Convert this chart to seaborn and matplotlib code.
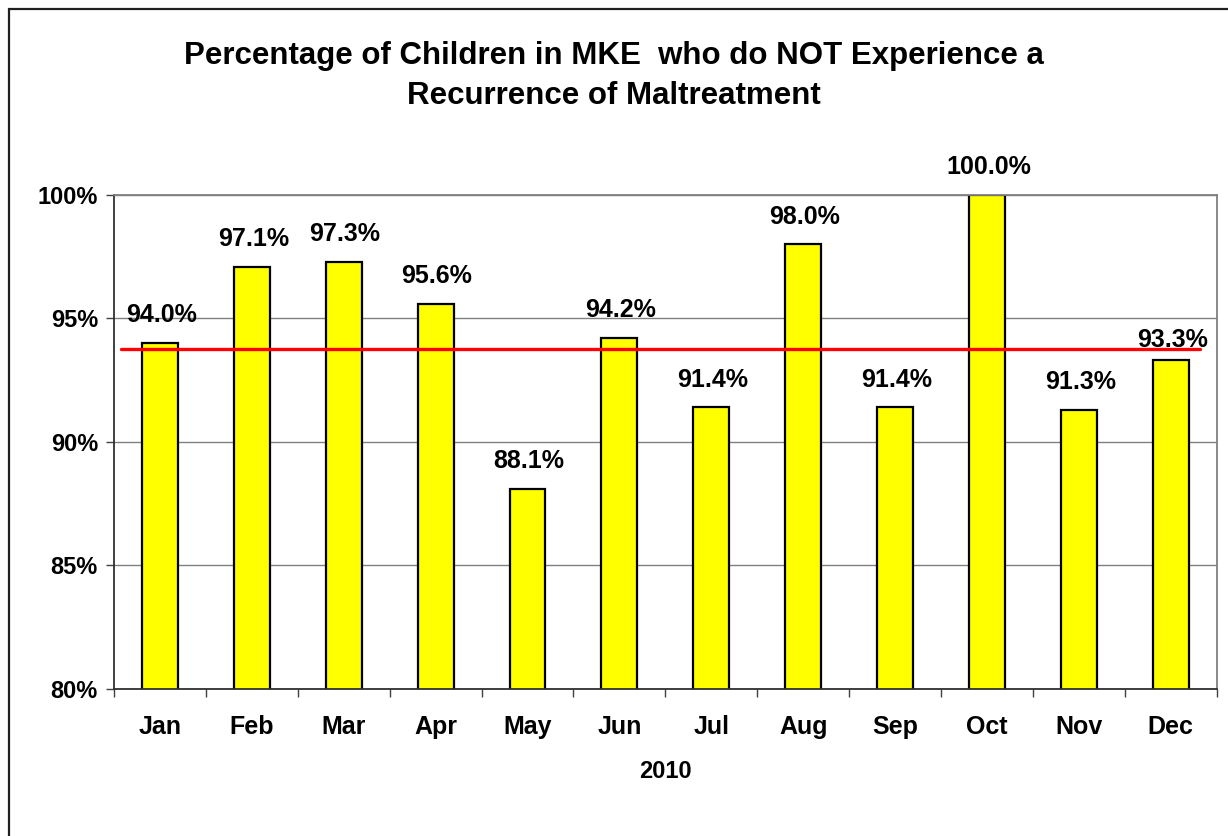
import numpy as np
import pandas as pd
import matplotlib.pyplot as plt
import matplotlib.patches as mpatches
from matplotlib.ticker import FuncFormatter
import seaborn as sns

# data
months = ['Jan', 'Feb', 'Mar', 'Apr', 'May', 'Jun', 'Jul', 'Aug', 'Sep', 'Oct', 'Nov', 'Dec']
pct = [94.0, 97.1, 97.3, 95.6, 88.1, 94.2, 91.4, 98.0, 91.4, 100.0, 91.3, 93.3]
target = 93.75
year_label = '2010'
title = 'Percentage of Children in MKE  who do NOT Experience a\nRecurrence of Maltreatment'

df = pd.DataFrame({'month': months, 'pct': pct})

sns.set_style('white')
plt.rcParams['font.family'] = ['Liberation Sans', 'DejaVu Sans']
plt.rcParams['font.weight'] = 'bold'
plt.rcParams['text.color'] = 'black'
plt.rcParams['xtick.color'] = 'black'
plt.rcParams['ytick.color'] = 'black'
plt.rcParams['axes.labelcolor'] = 'black'

fig = plt.figure(figsize=(12.28, 8.36), dpi=100)
ax = fig.add_axes([0.0928, 0.1762, 0.8980, 0.5905])

# outer chart frame (right/bottom edges fall outside the image)
fig.patches.append(mpatches.Rectangle((9 / 1228, -0.05), 1.1, 1 - 9 / 836 + 0.05,
                                      transform=fig.transFigure, fill=False,
                                      edgecolor='#202020', linewidth=1.6, zorder=0))

ax.yaxis.grid(True, color='#808080', linewidth=1.0)
ax.set_axisbelow(True)

sns.barplot(data=df, x='month', y='pct', color='#FFFF00', edgecolor='black',
            linewidth=1.6, width=0.39, saturation=1, ax=ax, zorder=2)

ax.axhline(target, xmin=0.006, xmax=0.985, color='#FF0000', linewidth=2.4, zorder=3)

for i, v in enumerate(pct):
    off = 15 if months[i] == 'Dec' else 20
    ax.annotate(f'{v:.1f}%', (i, v), xytext=(1, off), textcoords='offset points',
                ha='center', va='center', fontsize=18, fontweight='bold')

ax.set_ylim(80, 100)
ax.set_xlim(-0.5, 11.5)
ax.set_yticks([80, 85, 90, 95, 100])
ax.yaxis.set_major_formatter(FuncFormatter(lambda y, _: f'{y:.0f}%'))
ax.tick_params(axis='y', left=True, length=6, width=1, color='#404040', pad=5.5,
               labelsize=17)
ax.set_xticks(range(len(months)))
ax.set_xticks(np.arange(-0.5, len(months), 1), minor=True)
ax.tick_params(axis='x', which='major', length=0, pad=19, labelsize=18)
ax.tick_params(axis='x', which='minor', bottom=True, length=6, width=1, color='#404040')
for lab in ax.get_xticklabels() + ax.get_yticklabels():
    lab.set_fontweight('bold')

ax.set_xlabel(year_label, fontsize=17, fontweight='bold', labelpad=15)
ax.set_ylabel('')

for side in ['left', 'bottom']:
    ax.spines[side].set_color('#303030')
    ax.spines[side].set_linewidth(1.3)
for side in ['top', 'right']:
    ax.spines[side].set_color('#808080')
    ax.spines[side].set_linewidth(1.3)

fig.text(0.5, 1 - 76 / 836, title, ha='center', va='center', fontsize=22.5,
         fontweight='bold', linespacing=1.42)

fig.savefig('out.png', dpi=100)
